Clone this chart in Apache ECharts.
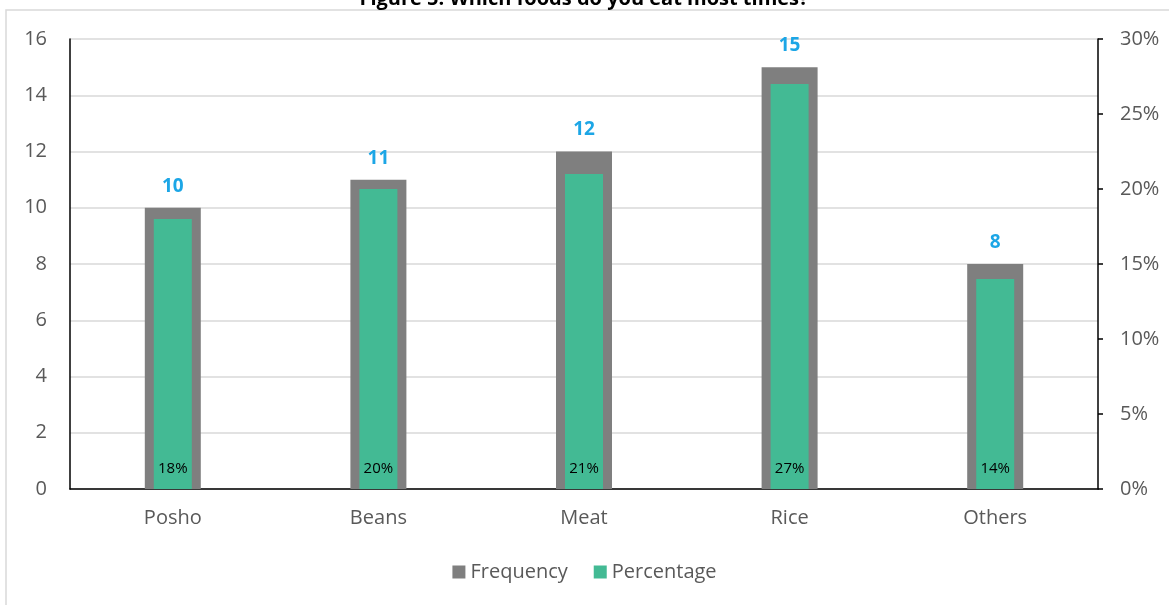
<!DOCTYPE html>
<html>
<head>
<meta charset="utf-8">
<script src="https://cdn.jsdelivr.net/npm/echarts@6/dist/echarts.min.js"></script>
<style>
  html, body { margin: 0; padding: 0; background: #fff; }
  #chart { width: 1169px; height: 605px; }
</style>
</head>
<body>
<div id="chart"></div>
<script>
// Foods eaten most times: frequency counts and their share of respondents
const categories = ['Posho', 'Beans', 'Meat', 'Rice', 'Others'];
const frequency = [10, 11, 12, 15, 8];
const percentage = [18, 20, 21, 27, 14];
const leftTicks = { min: 0, max: 16, interval: 2 };
const rightTicks = { min: 0, max: 30, interval: 5 };

const FONT = "'Open Sans', 'Noto Sans', sans-serif";
const TEXT_GREY = '#595959';

const chart = echarts.init(document.getElementById('chart'), null, { renderer: 'canvas' });

chart.setOption({
  animation: false,
  textStyle: { fontFamily: FONT },
  graphic: [
    {
      type: 'rect',
      shape: { x: 6, y: 10, width: 1300, height: 800 },
      style: { fill: 'none', stroke: '#d9d9d9', lineWidth: 1.5 },
      silent: true, z: -10
    },
    {
      type: 'text',
      x: 584, y: 9,
      style: {
        text: 'Figure 5: Which foods do you eat most times?',
        font: "bold 20px " + FONT,
        fill: '#000',
        textAlign: 'center',
        textVerticalAlign: 'bottom'
      },
      silent: true
    }
  ],
  legend: {
    bottom: 18,
    left: 'center',
    itemWidth: 13,
    itemHeight: 13,
    itemGap: 26,
    icon: 'rect',
    textStyle: { fontSize: 20, color: TEXT_GREY, fontFamily: FONT },
    data: ['Frequency', 'Percentage']
  },
  grid: { left: 70, right: 71, top: 39, bottom: 116 },
  xAxis: [
    {
      type: 'category',
      data: categories,
      axisLine: { lineStyle: { color: '#000', width: 1.5 } },
      axisTick: { show: false },
      axisLabel: { fontSize: 20, color: TEXT_GREY, margin: 19, fontFamily: FONT }
    },
    {
      // second category axis so the inner bars centre on the same slots
      type: 'category',
      data: categories,
      show: false
    }
  ],
  yAxis: [
    {
      type: 'value',
      min: leftTicks.min, max: leftTicks.max, interval: leftTicks.interval,
      axisLine: { show: true, lineStyle: { color: '#000', width: 1.5 } },
      axisTick: { show: false },
      axisLabel: { fontSize: 20, color: TEXT_GREY, margin: 23, fontFamily: FONT },
      splitLine: { lineStyle: { color: '#d9d9d9', width: 1.5 } }
    },
    {
      type: 'value',
      position: 'right',
      min: rightTicks.min, max: rightTicks.max, interval: rightTicks.interval,
      axisLine: { show: true, lineStyle: { color: '#000', width: 1.5 } },
      axisTick: { show: true, length: 5, lineStyle: { color: '#000', width: 1.5 } },
      axisLabel: { fontSize: 20, color: TEXT_GREY, margin: 22, fontFamily: FONT, formatter: '{value}%' },
      splitLine: { show: false }
    }
  ],
  series: [
    {
      name: 'Frequency',
      type: 'bar',
      xAxisIndex: 0,
      yAxisIndex: 0,
      data: frequency,
      barWidth: 56,
      itemStyle: { color: '#7f7f7f' },
      label: {
        show: true,
        position: 'top',
        distance: 12,
        fontSize: 19,
        fontWeight: 'bold',
        color: '#1ca6e6',
        fontFamily: FONT
      },
      z: 2
    },
    {
      name: 'Percentage',
      type: 'bar',
      xAxisIndex: 1,
      yAxisIndex: 1,
      data: percentage,
      barWidth: 38,
      itemStyle: { color: '#43ba94' },
      label: {
        show: true,
        position: 'insideBottom',
        distance: 13,
        fontSize: 15,
        color: '#000',
        fontFamily: FONT,
        formatter: '{c}%'
      },
      z: 3
    }
  ]
});
</script>
</body>
</html>
